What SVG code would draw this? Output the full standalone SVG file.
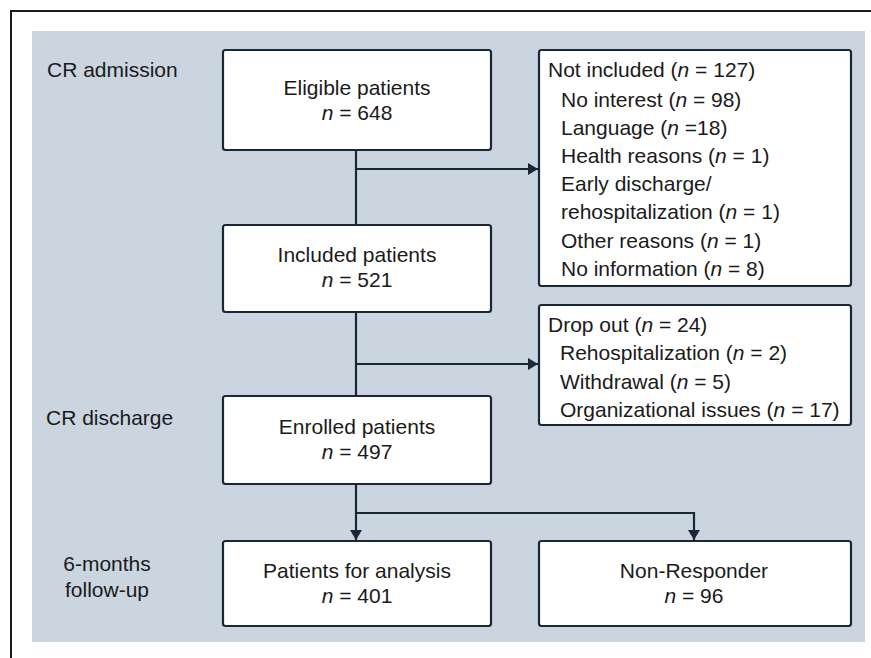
<svg xmlns="http://www.w3.org/2000/svg" width="871" height="658" viewBox="0 0 871 658">
<defs>
<style>
text{font-family:"Liberation Sans",Arial,sans-serif;font-size:21px;fill:#1a1a1a}
.c{text-anchor:middle}
.i{font-style:italic}
.box{fill:#ffffff;stroke:#1b2738;stroke-width:2.2}
.ln{fill:none;stroke:#1b2738;stroke-width:2.2}
</style>
<marker id="ah" viewBox="0 0 10 12" refX="10" refY="6" markerWidth="10" markerHeight="12" markerUnits="userSpaceOnUse" orient="auto">
<path d="M0,0 L10,6 L0,12 z" fill="#1b2738"/>
</marker>
</defs>
<rect x="0" y="0" width="871" height="658" fill="#ffffff"/>
<path d="M11,658 V11 H871" fill="none" stroke="#1a1a1a" stroke-width="2"/>
<rect x="32" y="31" width="833" height="611" fill="#cbd5df"/>
<g id="labels">
<text x="47" y="77">CR admission</text>
<text x="46" y="425">CR discharge</text>
<text x="107" y="571" class="c">6-months</text>
<text x="107" y="597" class="c">follow-up</text>
</g>
<g id="connectors">
<path class="ln" d="M356,150 V225"/>
<path class="ln" d="M356,169 H538" marker-end="url(#ah)"/>
<path class="ln" d="M356,312 V396"/>
<path class="ln" d="M356,364 H538" marker-end="url(#ah)"/>
<path class="ln" d="M356,484 V540" marker-end="url(#ah)"/>
<path class="ln" d="M356,513 H694 V540" marker-end="url(#ah)"/>
</g>
<g id="eligible">
<rect class="box" x="223" y="50" width="268" height="100" rx="2.5"/>
<text x="357" y="95" class="c">Eligible patients</text>
<text x="357" y="119.5" class="c"><tspan class="i">n</tspan> = 648</text>
</g>
<g id="included">
<rect class="box" x="223" y="225" width="268" height="87" rx="2.5"/>
<text x="357" y="262" class="c">Included patients</text>
<text x="357" y="287" class="c"><tspan class="i">n</tspan> = 521</text>
</g>
<g id="enrolled">
<rect class="box" x="223" y="396" width="268" height="88" rx="2.5"/>
<text x="357" y="433.5" class="c">Enrolled patients</text>
<text x="357" y="459" class="c"><tspan class="i">n</tspan> = 497</text>
</g>
<g id="analysis">
<rect class="box" x="223" y="541" width="268" height="85" rx="2.5"/>
<text x="357" y="578" class="c">Patients for analysis</text>
<text x="357" y="603" class="c"><tspan class="i">n</tspan> = 401</text>
</g>
<g id="nonresponder">
<rect class="box" x="539" y="541" width="312" height="85" rx="2.5"/>
<text x="694" y="578" class="c">Non-Responder</text>
<text x="694" y="603" class="c"><tspan class="i">n</tspan> = 96</text>
</g>
<g id="notincluded">
<rect class="box" x="539" y="50" width="312" height="236" rx="2.5"/>
<text x="548" y="77">Not included (<tspan class="i">n</tspan> = 127)</text>
<text x="561" y="107">No interest (<tspan class="i">n</tspan> = 98)</text>
<text x="561" y="135.1">Language (<tspan class="i">n</tspan> =18)</text>
<text x="561" y="163.2">Health reasons (<tspan class="i">n</tspan> = 1)</text>
<text x="561" y="191.3">Early discharge/</text>
<text x="561" y="219.4">rehospitalization (<tspan class="i">n</tspan> = 1)</text>
<text x="561" y="247.5">Other reasons (<tspan class="i">n</tspan> = 1)</text>
<text x="561" y="275.6">No information (<tspan class="i">n</tspan> = 8)</text>
</g>
<g id="dropout">
<rect class="box" x="539" y="305" width="312" height="120" rx="2.5"/>
<text x="548" y="331.5">Drop out (<tspan class="i">n</tspan> = 24)</text>
<text x="560" y="360">Rehospitalization (<tspan class="i">n</tspan> = 2)</text>
<text x="560" y="388.5">Withdrawal (<tspan class="i">n</tspan> = 5)</text>
<text x="560" y="417">Organizational issues (<tspan class="i">n</tspan> = 17)</text>
</g>
</svg>
